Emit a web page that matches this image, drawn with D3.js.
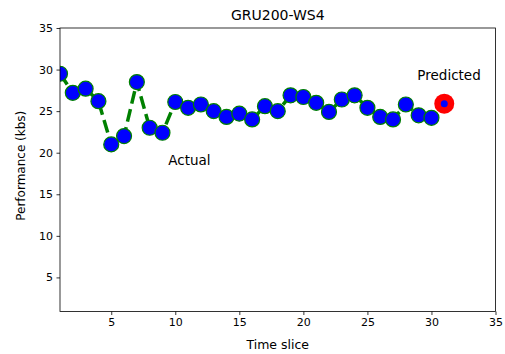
<!DOCTYPE html>
<html>
<head>
<meta charset="utf-8">
<script src="https://cdn.jsdelivr.net/npm/d3@7"></script>
<style>
  body { margin: 0; background: #fff; }
  text { font-family: "DejaVu Sans", sans-serif; fill: #000; }
</style>
</head>
<body>
<div id="chart"></div>
<script>
// time slices and measured performance
var timeSlices = [1,2,3,4,5,6,7,8,9,10,11,12,13,14,15,16,17,18,19,20,21,22,23,24,25,26,27,28,29,30];
var actual = [29.5,27.2,27.7,26.2,21.0,22.0,28.5,23.0,22.4,26.1,25.4,25.8,25.0,24.3,24.7,24.0,25.6,25.0,26.9,26.7,26.0,24.9,26.4,26.9,25.4,24.3,24.0,25.8,24.5,24.2];
var predicted = {x: 31, y: 25.9};
var xTicks = [5,10,15,20,25,30,35];
var yTicks = [5,10,15,20,25,30,35];

var width = 505, height = 354,
    margin = {top: 28, right: 10, bottom: 42, left: 60};

var svg = d3.select("#chart").append("svg")
  .attr("width", width)
  .attr("height", height);

var innerW = 495.5 - margin.left, innerH = 311.5 - margin.top;

var g = svg.append("g").attr("transform", `translate(${margin.left},${margin.top})`);

var x = d3.scaleLinear().domain([1, 35]).range([0, innerW]);
var y = d3.scaleLinear().domain([0.9, 35]).range([innerH, 0]);

g.append("clipPath").attr("id", "clip")
  .append("rect").attr("width", innerW).attr("height", innerH);

var plot = g.append("g").attr("clip-path", "url(#clip)");

var pts = timeSlices.map((t, i) => ({x: t, y: actual[i]}));

// dashed line
plot.append("path")
  .datum(pts)
  .attr("fill", "none")
  .attr("stroke", "green")
  .attr("stroke-width", 3.5)
  .attr("stroke-dasharray", "13,5.5")
  .attr("d", d3.line().x(d => x(d.x)).y(d => y(d.y)));

// markers
plot.selectAll(".pt")
  .data(pts)
  .enter().append("circle")
  .attr("class", "pt")
  .attr("cx", d => x(d.x))
  .attr("cy", d => y(d.y))
  .attr("r", 7.5)
  .style("fill", "blue")
  .style("stroke", "green")
  .style("stroke-width", 1.2);

// predicted point
plot.append("circle")
  .attr("cx", x(predicted.x)).attr("cy", y(predicted.y))
  .attr("r", 10).style("fill", "red");
plot.append("circle")
  .attr("cx", x(predicted.x)).attr("cy", y(predicted.y))
  .attr("r", 3.5).style("fill", "blue");

// axes
var xAxis = g.append("g")
  .attr("transform", `translate(0,${innerH})`)
  .call(d3.axisBottom(x).tickValues(xTicks).tickSize(3.5).tickPadding(3.5).tickSizeOuter(0));
var yAxis = g.append("g")
  .call(d3.axisLeft(y).tickValues(yTicks).tickSize(3.5).tickPadding(3.5).tickSizeOuter(0));
[xAxis, yAxis].forEach(a => {
  a.select(".domain").remove();
  a.selectAll("text").style("font-size", "11px").style("font-family", "'DejaVu Sans', sans-serif").attr("fill", "#000");
  a.selectAll("line").attr("stroke", "#000").attr("stroke-width", 0.8);
});

// frame
g.append("rect")
  .attr("width", innerW).attr("height", innerH)
  .attr("fill", "none").attr("stroke", "#000").attr("stroke-width", 0.8);

// annotations
g.append("text").attr("x", x(9.45)).attr("y", y(18.5)).text("Actual").style("font-size", "13.5px");
g.append("text").attr("x", x(28.9)).attr("y", y(28.7)).text("Predicted").style("font-size", "13.5px");

// title & labels
svg.append("text").attr("x", margin.left + innerW / 2).attr("y", 20)
  .attr("text-anchor", "middle").text("GRU200-WS4").style("font-size", "14px");
svg.append("text").attr("x", margin.left + innerW / 2).attr("y", 349)
  .attr("text-anchor", "middle").text("Time slice").style("font-size", "12.5px");
svg.append("text")
  .attr("transform", `translate(25,${margin.top + innerH / 2 - 4}) rotate(-90)`)
  .attr("text-anchor", "middle").text("Performance (kbs)").style("font-size", "12px");
</script>
</body>
</html>
